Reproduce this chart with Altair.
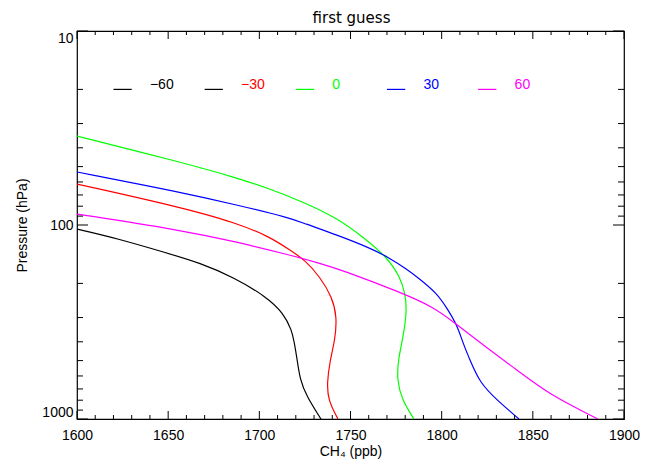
import altair as alt
import pandas as pd

# ---------------- data ----------------
title_text = "first guess"
x_title = "CH₄ (ppb)"
y_title = "Pressure (hPa)"

series_names = ["-60", "-30", "0", "30", "60"]
series_colors = ["#000000", "#ff0000", "#00ff00", "#0000ff", "#ff00ff"]

ch4_m60 = [1600, 1621.8, 1649.4, 1667.5, 1685.6, 1704.2, 1713.2, 1717.8, 1719.2, 1720.5, 1722.3, 1726.0, 1733.8]
p_m60 = [104.9, 117.1, 139.5, 157.0, 185.4, 235.1, 285.0, 348.0, 405.0, 477.0, 630.0, 765.0, 1000]

ch4_m30 = [1600, 1656.5, 1687.8, 1705.9, 1716.8, 1725.0, 1733.3, 1739.9, 1742.6, 1741.5, 1738.8, 1737.1, 1737.7, 1743.1]
p_m30 = [61.5, 80.8, 97.7, 115.3, 134.6, 151.5, 185.4, 235.1, 298.1, 391.6, 496.4, 652.3, 798.0, 1000]

ch4_0 = [1600, 1656.5, 1687.8, 1705.9, 1724.0, 1742.6, 1756.9, 1770.0, 1777.2, 1779.9, 1781.0, 1778.9, 1776.1, 1775.5, 1778.2, 1784.8]
p_0 = [34.8, 47.3, 57.2, 65.2, 76.1, 92.0, 115.3, 146.2, 185.4, 224.1, 274.3, 378.0, 496.4, 629.5, 798.0, 1000]

ch4_30 = [1600, 1656.5, 1687.8, 1716.8, 1724.0, 1742.6, 1760.7, 1770.6, 1781.5, 1786.5, 1797.4, 1803.5, 1808.4, 1811.7, 1815.5, 1821.0, 1830.3, 1842.4]
p_30 = [53.3, 67.6, 78.9, 92.0, 97.7, 112.6, 131.4, 146.2, 170.6, 185.4, 224.1, 274.3, 327.8, 405.8, 496.4, 652.3, 798.0, 1000]

ch4_60 = [1600, 1656.5, 1687.8, 1716.8, 1733.3, 1745.3, 1777.2, 1795.2, 1807.3, 1822.7, 1841.3, 1859.4, 1885.7]
p_60 = [87.8, 106.1, 122.4, 142.8, 157.6, 170.6, 222.0, 263.5, 320.1, 415.6, 559.2, 752.0, 1000]

# legend (drawn inside the plot, at 20 hPa)
legend_p = 20
legend_seg_start = [1620, 1670, 1720, 1770, 1820]
legend_seg_end = [1630, 1680, 1730, 1780, 1830]
legend_seg_colors = ["#000000", "#000000", "#00ff00", "#0000ff", "#ff00ff"]
legend_label_x = [1640, 1690, 1740, 1790, 1840]
legend_labels = ["−60", "−30", "0", "30", "60"]

# tick values
x_major = [1600, 1650, 1700, 1750, 1800, 1850, 1900]
x_minor = [v for v in range(1600, 1901, 10) if v % 50 != 0]
y_major = [10, 100, 1000]
y_minor = [20, 30, 40, 50, 60, 70, 80, 90, 200, 300, 400, 500, 600, 700, 800, 900]

# ---------------- build tables ----------------
rows = []
for name, color, xs, ps in zip(series_names, series_colors,
                               [ch4_m60, ch4_m30, ch4_0, ch4_30, ch4_60],
                               [p_m60, p_m30, p_0, p_30, p_60]):
    for i, (xv, pv) in enumerate(zip(xs, ps)):
        rows.append({"series": name, "color": color, "ch4": xv, "p": pv, "order": i})
curves = pd.DataFrame(rows)

leg_seg = pd.DataFrame({"x0": legend_seg_start, "x1": legend_seg_end,
                        "color": legend_seg_colors, "p": [legend_p] * 5})
leg_txt = pd.DataFrame({"x": legend_label_x, "label": legend_labels,
                        "color": series_colors, "p": [legend_p] * 5})

W, H = 547, 388
FONT = "Liberation Sans"

xscale = alt.Scale(domain=[1600, 1900], nice=False, zero=False)
yscale = alt.Scale(type="log", domain=[10, 1000], reverse=True, nice=False)

xaxis = alt.Axis(values=x_major, format="d", ticks=False, domain=False, grid=False,
                 labelPadding=9, labelFontSize=14, labelFont=FONT, labelColor="black",
                 labelFlush=False,
                 titleFont=FONT, titleFontSize=14, titleFontWeight="normal",
                 titleColor="black", titlePadding=2)
yaxis = alt.Axis(values=y_major, format="d", ticks=False, domain=False, grid=False,
                 labelPadding=4, labelFontSize=14, labelFont=FONT, labelColor="black",
                 labelFlush=True,
                 titleFont=FONT, titleFontSize=14, titleFontWeight="normal",
                 titleColor="black", titlePadding=12)


def X(field):
    return alt.X(f"{field}:Q", scale=xscale, axis=xaxis, title=x_title)


def Y(field):
    return alt.Y(f"{field}:Q", scale=yscale, axis=yaxis, title=y_title)


lines = alt.Chart(curves).mark_line(strokeWidth=1.2, interpolate="basis", clip=True).encode(
    x=X("ch4"), y=Y("p"),
    color=alt.Color("color:N", scale=None),
    detail="series:N",
    order="order:Q",
)

seg = alt.Chart(leg_seg).mark_rule(strokeWidth=1.2).encode(
    x=X("x0"), x2="x1", y=Y("p"), color=alt.Color("color:N", scale=None)
)
txt = alt.Chart(leg_txt).mark_text(align="left", baseline="alphabetic", fontSize=14, font=FONT).encode(
    x=X("x"), y=Y("p"), text="label:N", color=alt.Color("color:N", scale=None)
)

title_mark = alt.Chart(pd.DataFrame({"t": [title_text]})).mark_text(
    align="center", baseline="alphabetic", fontSize=15, font="DejaVu Sans", color="black"
).encode(text="t:N", x=alt.value(W / 2 + 1), y=alt.value(-8))

xmaj = pd.DataFrame({"v": x_major})
xmin = pd.DataFrame({"v": x_minor})
ymaj = pd.DataFrame({"v": y_major})
ymin = pd.DataFrame({"v": y_minor})

tick_layers = []
for df, ln in [(xmaj, 8), (xmin, 4)]:
    tick_layers.append(alt.Chart(df).mark_rule(color="black", strokeWidth=1).encode(
        x=X("v"), y=alt.value(H), y2=alt.value(H - ln)))
    tick_layers.append(alt.Chart(df).mark_rule(color="black", strokeWidth=1).encode(
        x=X("v"), y=alt.value(0), y2=alt.value(ln)))
for df, ln in [(ymaj, 11), (ymin, 6)]:
    tick_layers.append(alt.Chart(df).mark_rule(color="black", strokeWidth=1).encode(
        y=Y("v"), x=alt.value(0), x2=alt.value(ln)))
    tick_layers.append(alt.Chart(df).mark_rule(color="black", strokeWidth=1).encode(
        y=Y("v"), x=alt.value(W), x2=alt.value(W - ln)))

chart = alt.layer(lines, seg, txt, title_mark, *tick_layers).properties(
    width=W, height=H,
    autosize=alt.AutoSizeParams(type="none"),
    padding={"left": 69, "top": 23, "right": 18, "bottom": 41},
    background="white",
).configure_view(stroke="black", strokeWidth=1.2)

chart.save("out.html", embed_options={"renderer": "svg", "actions": False})
